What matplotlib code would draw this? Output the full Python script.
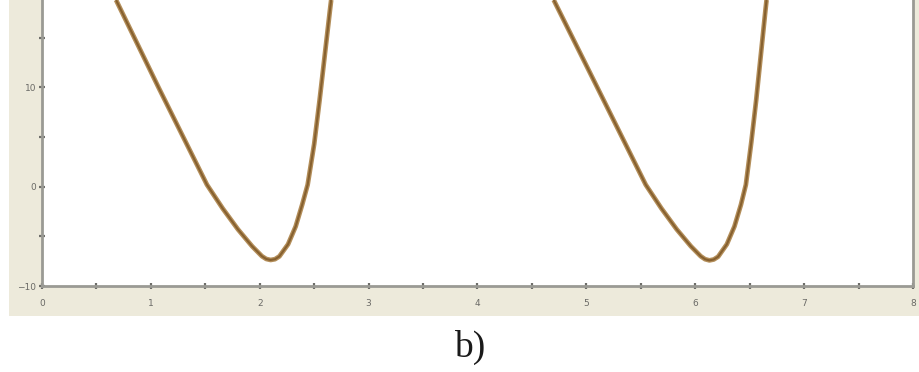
import matplotlib
matplotlib.use("Agg")
import matplotlib.pyplot as plt
from matplotlib.patches import Rectangle

# two V-shaped response curves, read point by point
left_x = [0.68, 1.07, 1.515, 1.66, 1.80, 1.93, 2.02, 2.06, 2.10, 2.14, 2.18, 2.26, 2.33, 2.39, 2.44, 2.50, 2.55, 2.645, 2.656]
left_y = [18.8, 10.0, 0.2, -2.2, -4.3, -6.0, -7.0, -7.28, -7.38, -7.3, -7.02, -5.8, -4.0, -1.8, 0.2, 4.3, 8.75, 17.8, 18.8]
right_x = [4.70, 5.10, 5.545, 5.69, 5.83, 5.96, 6.05, 6.09, 6.13, 6.17, 6.21, 6.29, 6.36, 6.42, 6.465, 6.515, 6.56, 6.645, 6.655]
right_y = [18.8, 10.0, 0.2, -2.2, -4.3, -6.0, -7.0, -7.3, -7.42, -7.33, -7.05, -5.8, -4.0, -1.8, 0.2, 4.5, 8.75, 17.8, 18.8]

xticks_major = [0, 1, 2, 3, 4, 5, 6, 7, 8]
yticks_major = [-10, 0, 10]

W, H = 920, 372
fig = plt.figure(figsize=(W / 100, H / 100), dpi=100)
fig.patch.set_facecolor("white")
fig.patches.append(Rectangle((9 / W, 1 - 316 / H), 1 - 9 / W, 316 / H,
                             transform=fig.transFigure, facecolor="#edeadb",
                             edgecolor="none", zorder=-1))

ax = fig.add_axes([42 / W, 1 - 286 / H, (913 - 42) / W, 286 / H])
ax.set_zorder(1)
ax.set_facecolor("white")
ax.set_xlim(0, 8)
ax.set_ylim(-10, 18.8)

for xs, ys in [(left_x, left_y), (right_x, right_y)]:
    ax.plot(xs, ys, color="#b38e5a", lw=3.4, solid_joinstyle="round",
            solid_capstyle="butt", zorder=3)
    ax.plot(xs, ys, color="#86602f", lw=1.5, solid_joinstyle="round",
            solid_capstyle="butt", zorder=4)

for side in ["left", "bottom", "right"]:
    ax.spines[side].set_color("#9a9a94")
    ax.spines[side].set_linewidth(2.0)
ax.spines["top"].set_visible(False)

ax.set_xticks(xticks_major)
ax.set_xticks([x + 0.5 for x in xticks_major[:-1]], minor=True)
ax.set_yticks(yticks_major)
ax.set_yticks([-5, 5, 15], minor=True)
ax.tick_params(which="both", direction="inout", length=4, width=1.6,
               color="#6e6e6a", labelsize=6.5, labelcolor="#6a6a66")
ax.tick_params(axis="x", pad=7)
ax.tick_params(axis="y", pad=2)

fig.text(0.51, 0.066, "b)", ha="center", va="center", fontsize=27,
         family="Liberation Serif", color="#1a1a1a")

fig.savefig("out.png", dpi=100)
